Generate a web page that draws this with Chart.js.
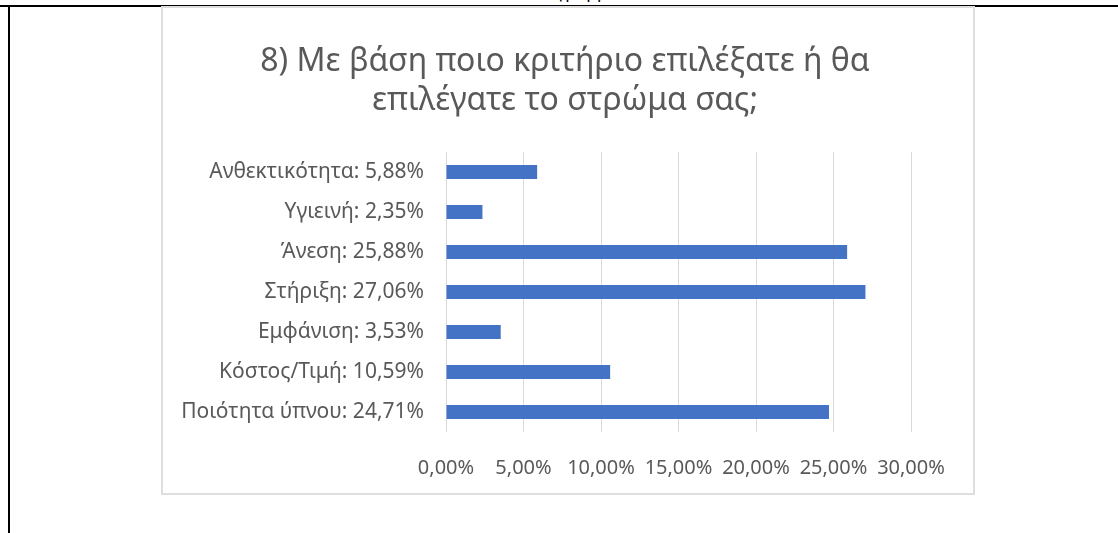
<!DOCTYPE html>
<html>
<head>
<meta charset="utf-8">
<script src="https://cdn.jsdelivr.net/npm/chart.js@4"></script>
<style>
    body { margin: 0; background: #fff; width: 1118px; height: 533px; overflow: hidden; position: relative; font-family: "Noto Sans", sans-serif; }
    #topLine { position: absolute; left: 0; top: 5px; width: 1118px; height: 2px; background: #000; }
    #leftLine { position: absolute; left: 8px; top: 5px; width: 2px; height: 528px; background: #000; }
    #caption { position: absolute; left: 530px; top: -20px; font-size: 17px; color: #000; white-space: nowrap; }
    #chartBox { position: absolute; left: 161px; top: 6px; width: 810px; height: 485px; border: 2px solid #dedede; background: #fff; }
    #chartBox canvas { display: block; }
</style>
</head>
<body>
<div id="caption">Διάγραμμα</div>
<div id="topLine"></div>
<div id="leftLine"></div>
<div id="chartBox"><canvas id="criteriaChart" width="810" height="485"></canvas></div>

<script>
const titleLines = ['8) Με βάση ποιο κριτήριο επιλέξατε ή θα', 'επιλέγατε το στρώμα σας;'];
const criteria = ['Ανθεκτικότητα', 'Υγιεινή', 'Άνεση', 'Στήριξη', 'Εμφάνιση', 'Κόστος/Τιμή', 'Ποιότητα ύπνου'];
const shares = [5.88, 2.35, 25.88, 27.06, 3.53, 10.59, 24.71];
const axisTicks = [0, 5, 10, 15, 20, 25, 30];

const textColor = '#595959';
const fontFamily = '"Noto Sans", sans-serif';

function percent(v, digits) {
    return v.toFixed(digits).replace('.', ',') + '%';
}

const labels = criteria.map((name, i) => name + ': ' + percent(shares[i], 2));

// title centred on the whole box, not on the plot area
const boxTitle = {
    id: 'boxTitle',
    afterDraw(chart) {
        const c = chart.ctx;
        c.save();
        c.fillStyle = textColor;
        c.font = '32px ' + fontFamily;
        c.textAlign = 'center';
        c.textBaseline = 'middle';
        titleLines.forEach((line, i) => {
            c.fillText(line, chart.width / 2 - 3, 54 + i * 39);
        });
        c.restore();
    }
};

const ctx = document.getElementById('criteriaChart').getContext('2d');
const criteriaChart = new Chart(ctx, {
    type: 'bar',
    data: {
        labels: labels,
        datasets: [{
            data: shares,
            backgroundColor: '#4472C4',
            borderWidth: 0,
            barPercentage: 0.7,
            categoryPercentage: 0.5
        }]
    },
    plugins: [boxTitle],
    options: {
        indexAxis: 'y',
        responsive: false,
        animation: false,
        layout: {
            padding: { left: 0, right: 62, top: 144, bottom: 11 }
        },
        plugins: {
            legend: { display: false },
            tooltip: { enabled: false },
            title: { display: false }
        },
        scales: {
            x: {
                min: axisTicks[0],
                max: axisTicks[axisTicks.length - 1],
                afterBuildTicks: scale => {
                    scale.ticks = axisTicks.map(v => ({ value: v }));
                },
                afterFit: scale => { scale.height = 50; },
                grid: { color: '#d9d9d9', lineWidth: 1, drawTicks: false },
                border: { display: false },
                ticks: {
                    color: textColor,
                    padding: 24,
                    maxRotation: 0,
                    autoSkip: false,
                    font: { family: fontFamily, size: 20 },
                    callback: v => percent(v, 2)
                }
            },
            y: {
                afterFit: scale => { scale.width = 283; },
                grid: { display: false, drawTicks: false },
                border: { display: false },
                ticks: {
                    color: textColor,
                    padding: 22,
                    font: { family: fontFamily, size: 21 }
                }
            }
        }
    }
});
</script>
</body>
</html>
